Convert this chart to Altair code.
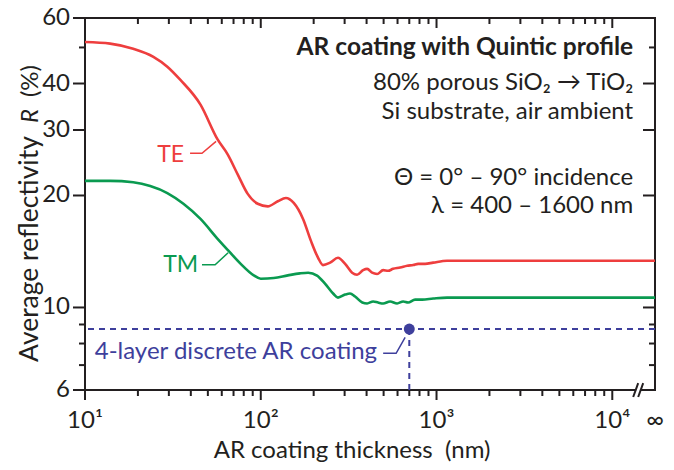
import altair as alt
import pandas as pd

# ---------------- data ----------------
te_thickness = [10, 13.9, 18.8, 24.5, 29.4, 34.9, 45.4, 56.8, 64.8, 73.9, 84.3, 96.1,
                109.6, 125, 139, 154, 174, 193, 212, 226, 248, 275, 302, 331, 353,
                382, 403, 430, 459, 497, 530, 566, 621, 681, 737, 786, 861, 957,
                1148, 1553, 17500]
te_reflect = [51.7, 51.2, 49.6, 47.2, 44.4, 40.9, 35.1, 28.3, 25.8, 22.8, 20.2, 19.0,
              18.7, 19.3, 19.7, 19.1, 17.3, 15.1, 13.6, 13.0, 13.2, 13.6, 13.1, 12.4, 12.25,
              12.6, 12.7, 12.4, 12.3, 12.6, 12.55, 12.7, 12.8, 12.95, 13.0, 13.1, 13.1, 13.2,
              13.35, 13.35, 13.35]

tm_thickness = [10, 13.9, 18.8, 23.5, 29.4, 36.3, 45.4, 56.8, 65.6, 76.9, 91.2, 100,
                118.6, 142.6, 167, 186, 209, 232, 258, 275, 302, 322, 344, 378, 403,
                436, 465, 497, 544, 597, 646, 689, 755, 828, 957, 1148, 1553, 17500]
tm_reflect = [21.9, 21.9, 21.7, 21.2, 20.3, 19.0, 17.3, 15.3, 14.2, 13.1, 12.2, 11.95,
              12.0, 12.2, 12.35, 12.4, 12.18, 11.59, 10.9, 10.63, 10.83, 10.9, 10.7, 10.31, 10.25,
              10.38, 10.31, 10.25, 10.38, 10.25, 10.38, 10.31, 10.5, 10.5, 10.57, 10.63, 10.63, 10.63]

discrete_thickness = [700]
discrete_reflect = [8.75]

x_major = [10, 100, 1000, 10000]
x_minor = [20, 30, 40, 50, 60, 70, 80, 90,
           200, 300, 400, 500, 600, 700, 800, 900,
           2000, 3000, 4000, 5000, 6000, 7000, 8000, 9000]
x_infinity = 17500
x_tick_labels = ["10\u00b9", "10\u00b2", "10\u00b3", "10\u2074", "\u221e"]
y_major = [6, 10, 20, 30, 40, 60]
y_minor = [7, 8, 9, 50]
y_tick_labels = ["6", "10", "20", "30", "40", "60"]

X_DOMAIN = [10, 17500]
Y_DOMAIN = [6, 60]

info_lines = ["AR coating with Quintic profile", "80% porous SiO\u2082 \u2192 TiO\u2082",
              "Si substrate, air ambient", "\u0398 = 0\u00b0 \u2013 90\u00b0 incidence",
              "\u03bb = 400 \u2013 1600 nm"]

# ---------------- styles ----------------
RED = "#ee3e3e"
GREEN = "#0a9a50"
BLUE = "#3e3f9c"
INK = "#231f20"
FONT = "Lato"
W, H = 570, 372
MAJ_X, MIN_X, MAJ_Y, MIN_Y = 10, 6, 12, 6

curves = pd.concat([
    pd.DataFrame({"t": te_thickness, "R": te_reflect, "mode": "TE"}),
    pd.DataFrame({"t": tm_thickness, "R": tm_reflect, "mode": "TM"}),
])
disc = pd.DataFrame({"t": discrete_thickness, "R": discrete_reflect})

xs = alt.Scale(type="log", domain=X_DOMAIN, nice=False)
ys = alt.Scale(type="log", domain=Y_DOMAIN, nice=False)


def X(field="t"):
    return alt.X(field + ":Q", scale=xs, axis=None)


def Y(field="R"):
    return alt.Y(field + ":Q", scale=ys, axis=None)


lines = alt.Chart(curves).mark_line(strokeWidth=2.6, interpolate="monotone").encode(
    x=X(), y=Y(),
    color=alt.Color("mode:N", scale=alt.Scale(domain=["TE", "TM"], range=[RED, GREEN]), legend=None),
)


# tick marks: outward on bottom/left, inward on top/right
def x_ticks(vals, length, top):
    centre = length / 2 if top else H + length / 2
    return alt.Chart(pd.DataFrame({"v": vals})).mark_tick(
        orient="vertical", size=length, thickness=2, color=INK, opacity=1
    ).encode(x=X("v"), y=alt.value(centre))


def y_ticks(vals, length, right):
    centre = W - length / 2 if right else -length / 2
    return alt.Chart(pd.DataFrame({"v": vals})).mark_tick(
        orient="horizontal", size=length, thickness=2, color=INK, opacity=1
    ).encode(y=Y("v"), x=alt.value(centre))


ticks = [
    x_ticks(x_major, MAJ_X, False), x_ticks(x_minor, MIN_X, False),
    x_ticks(x_major, MAJ_X, True), x_ticks(x_minor, MIN_X, True),
    y_ticks(y_major, MAJ_Y, False), y_ticks(y_minor, MIN_Y, False),
    y_ticks(y_major, MAJ_Y, True), y_ticks(y_minor, MIN_Y, True),
]

# tick labels, placed through the scales
x_lab = alt.Chart(pd.DataFrame({"v": x_major + [x_infinity], "txt": x_tick_labels})).mark_text(
    align="center", baseline="top", font=FONT, fontSize=24, color=INK
).encode(x=X("v"), y=alt.value(H + MAJ_X + 9), text="txt:N")
y_lab = alt.Chart(pd.DataFrame({"v": y_major, "txt": y_tick_labels})).mark_text(
    align="right", baseline="middle", font=FONT, fontSize=24, color=INK
).encode(y=Y("v"), x=alt.value(-MAJ_Y - 3), text="txt:N")

one = pd.DataFrame({"a": [0]})
x_title = alt.Chart(one).mark_text(
    text="AR coating thickness\u00a0\u00a0(nm)", align="center", baseline="alphabetic",
    font=FONT, fontSize=24, color=INK
).encode(x=alt.value(267), y=alt.value(H + 68))

# y-axis title with italic R
ytitle_kw = dict(angle=270, baseline="alphabetic", font=FONT, color=INK)
yt1 = alt.Chart(one).mark_text(text="Average reflectivity", align="left", fontSize=26.5, **ytitle_kw).encode(
    x=alt.value(-47), y=alt.value(344))
yt2 = alt.Chart(one).mark_text(text="R", align="center", fontStyle="italic", fontSize=24, **ytitle_kw).encode(
    x=alt.value(-47), y=alt.value(98))
yt3 = alt.Chart(one).mark_text(text="(%)", align="right", fontSize=24, **ytitle_kw).encode(
    x=alt.value(-47), y=alt.value(47))

# 4-layer discrete AR coating reference
hline = alt.Chart(disc).mark_rule(color=BLUE, strokeWidth=2, strokeDash=[6, 5]).encode(y=Y())
vline = alt.Chart(disc).mark_rule(color=BLUE, strokeWidth=2, strokeDash=[6, 5]).encode(
    x=X(), y=Y(), y2=alt.datum(Y_DOMAIN[0]))
dot = alt.Chart(disc).mark_circle(color=BLUE, opacity=1, size=120).encode(x=X(), y=Y())

# leader lines (annotation anchors in data units)
leaders = pd.DataFrame({
    "t": [39.6, 46.3, 55.7, 46.3, 55.0, 65.2, 497, 589, 663],
    "R": [25.97, 25.97, 27.95, 13.03, 13.03, 14.03, 7.53, 7.53, 8.31],
    "id": ["TE", "TE", "TE", "TM", "TM", "TM", "D", "D", "D"],
    "k": [0, 1, 2, 0, 1, 2, 0, 1, 2],
})
id_color = alt.Color("id:N", scale=alt.Scale(domain=["TE", "TM", "D"], range=[RED, GREEN, BLUE]), legend=None)
leader_marks = alt.Chart(leaders).mark_line(strokeWidth=1.5).encode(
    x=X(), y=Y(), detail="id:N", order="k:Q", color=id_color)

labels = pd.DataFrame({
    "t": [36.6, 44.0],
    "R": [24.62, 12.43],
    "txt": ["TE", "TM"],
    "id": ["TE", "TM"],
})
label_marks = alt.Chart(labels).mark_text(align="right", baseline="alphabetic", font=FONT, fontSize=23).encode(
    x=X(), y=Y(), text="txt:N", color=id_color)
disc_label = alt.Chart(pd.DataFrame({"t": [459], "R": [7.25], "txt": ["4-layer discrete AR coating"]})).mark_text(
    align="right", baseline="alphabetic", font=FONT, fontSize=24, color=BLUE).encode(x=X(), y=Y(), text="txt:N")

info = pd.DataFrame({
    "t": [13150] * 5,
    "R": [47.7, 38.4, 32.15, 21.4, 17.98],
    "txt": info_lines,
    "bold": [True, False, False, False, False],
})
info_bold = alt.Chart(info).transform_filter("datum.bold").mark_text(
    align="right", baseline="alphabetic", font=FONT, fontSize=24.5, fontWeight="bold", color=INK
).encode(x=X(), y=Y(), text="txt:N")
info_reg = alt.Chart(info).transform_filter("!datum.bold").mark_text(
    align="right", baseline="alphabetic", font=FONT, fontSize=24, color=INK
).encode(x=X(), y=Y(), text="txt:N")

# axis break "//" on the x axis
gap = alt.Chart(pd.DataFrame({"t": [13670], "t2": [14420], "R": [6]})).mark_rule(
    color="white", strokeWidth=5).encode(x=X(), x2="t2:Q", y=Y())
slash = alt.Chart(pd.DataFrame({"t": [13150, 14040], "t2": [14040, 14990],
                                "R": [5.745, 5.745], "R2": [6.26, 6.26]})).mark_rule(
    color=INK, strokeWidth=2).encode(x=X(), x2="t2:Q", y=Y(), y2="R2:Q")

chart = alt.layer(
    lines, *ticks, x_lab, y_lab, x_title, hline, vline, leader_marks, dot, label_marks, disc_label,
    info_bold, info_reg, yt1, yt2, yt3, gap, slash
).resolve_scale(color="independent").properties(
    width=W, height=H,
    autosize=alt.AutoSizeParams(type="none"),
    padding={"left": 77, "top": 10, "right": 11, "bottom": 72},
).configure_view(stroke=INK, strokeWidth=2)

chart.save("out.html", embed_options={"renderer": "svg", "actions": False})
